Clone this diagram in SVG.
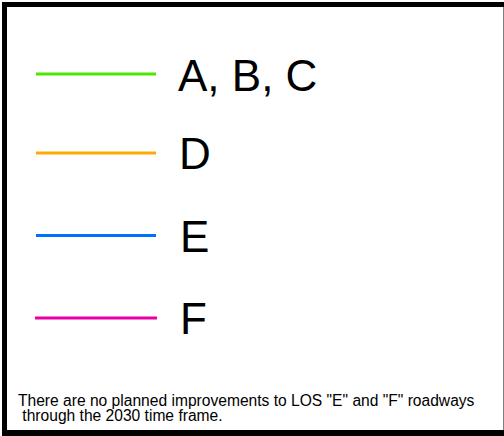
<svg xmlns="http://www.w3.org/2000/svg" width="504" height="436" viewBox="0 0 504 436">
<style>
.lbl{font-family:"Liberation Sans",Arial,sans-serif;font-size:44px;fill:#000}
.note{font-family:"Liberation Sans",Arial,sans-serif;font-size:15.6px;fill:#000}
.ln{stroke-width:3;fill:none}
</style>
<rect width="504" height="436" fill="#fff"/>
<path id="frame" d="M2,2 H510 V440 H2 Z M7,7 V430 H503.5 V7 Z" fill="#000" fill-rule="evenodd"/>
<g id="connectors">
<line class="ln" x1="36" y1="74" x2="156" y2="74" stroke="#4CE600"/>
<line class="ln" x1="36" y1="153" x2="156" y2="153" stroke="#FFAA00"/>
<line class="ln" x1="36" y1="235.5" x2="156" y2="235.5" stroke="#0070FF"/>
<line class="ln" x1="35" y1="318" x2="157" y2="318" stroke="#E600A9"/>
</g>
<g id="abc"><text class="lbl" x="178" y="91">A, B, C</text></g>
<g id="d"><text class="lbl" x="179" y="169">D</text></g>
<g id="e"><text class="lbl" x="180" y="252">E</text></g>
<g id="f"><text class="lbl" x="180" y="334">F</text></g>
<g id="note">
<text class="note" x="18" y="406">There are no planned improvements to LOS "E" and "F" roadways</text>
<text class="note" x="18" y="421" xml:space="preserve"> through the 2030 time frame.</text>
</g>
</svg>
